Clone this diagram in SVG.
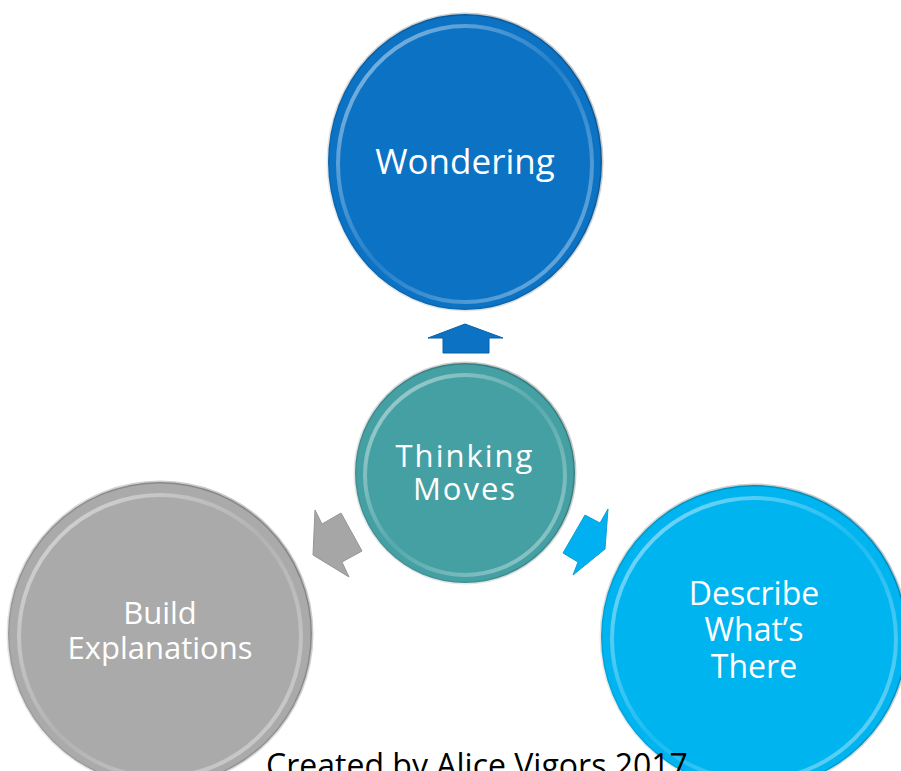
<svg xmlns="http://www.w3.org/2000/svg" width="901" height="771" viewBox="0 0 901 771">
<defs>
<linearGradient id="rimLight" x1="0" y1="0" x2="1" y2="1">
<stop offset="0" stop-color="#ffffff" stop-opacity="0.55"/>
<stop offset="0.5" stop-color="#ffffff" stop-opacity="0.1"/>
<stop offset="1" stop-color="#ffffff" stop-opacity="0.45"/>
</linearGradient>
<linearGradient id="rimDark" x1="1" y1="0" x2="0" y2="1">
<stop offset="0" stop-color="#000000" stop-opacity="0.25"/>
<stop offset="1" stop-color="#000000" stop-opacity="0.05"/>
</linearGradient>
<style>
.outer{stroke:url(#rimDark);stroke-width:3}
.inner{fill:none;stroke:url(#rimLight);stroke-width:4}
.lbl{font-family:"Open Sans","DejaVu Sans",sans-serif;fill:#ffffff;text-anchor:middle}
.cap{font-family:"Open Sans","DejaVu Sans",sans-serif;fill:#000000;text-anchor:middle;font-size:32px}
</style>
</defs>
<rect width="901" height="771" fill="#ffffff"/>

<g id="connectors">
<polygon points="443,353 443,338 428,338 465,324 503,338 489,338 489,353" fill="#0B72C4" stroke="#0860a8" stroke-width="1"/>
<polygon points="322,524 341,513 362,551 342,562 349,577 313,555 315,510" fill="#A6A6A6" stroke="#969696" stroke-width="1"/>
<polygon points="585,515 600,523 608,509 605,549 573,575 578,562 563,553" fill="#00B0F0" stroke="#0aa0d8" stroke-width="1"/>
</g>

<g id="node-wondering">
<ellipse class="outer" cx="465" cy="162" rx="137" ry="148" fill="#0B72C4"/>
<ellipse class="inner" cx="465" cy="164" rx="127" ry="138"/>
<text class="lbl" x="465" y="174" font-size="35">Wondering</text>
</g>

<g id="node-thinking">
<ellipse class="outer" cx="465" cy="473" rx="110" ry="110" fill="#45A0A3"/>
<ellipse class="inner" cx="465" cy="475" rx="100" ry="100"/>
<text class="lbl" x="465" y="467" font-size="31" letter-spacing="2">Thinking</text>
<text class="lbl" x="465" y="500" font-size="31" letter-spacing="2">Moves</text>
</g>

<g id="node-build">
<ellipse class="outer" cx="160" cy="634" rx="152" ry="152" fill="#AAAAAA"/>
<ellipse class="inner" cx="160" cy="636" rx="141" ry="141"/>
<text class="lbl" x="160" y="624" font-size="31">Build</text>
<text class="lbl" x="160" y="659" font-size="31">Explanations</text>
</g>

<g id="node-describe">
<ellipse class="outer" cx="754" cy="637" rx="153" ry="152" fill="#00B4F0"/>
<ellipse class="inner" cx="754" cy="639" rx="142" ry="141"/>
<text class="lbl" x="754" y="605" font-size="32">Describe</text>
<text class="lbl" x="754" y="641" font-size="32">What’s</text>
<text class="lbl" x="754" y="678" font-size="32">There</text>
</g>

<g id="caption">
<text class="cap" x="477" y="777">Created by Alice Vigors 2017</text>
</g>
</svg>
